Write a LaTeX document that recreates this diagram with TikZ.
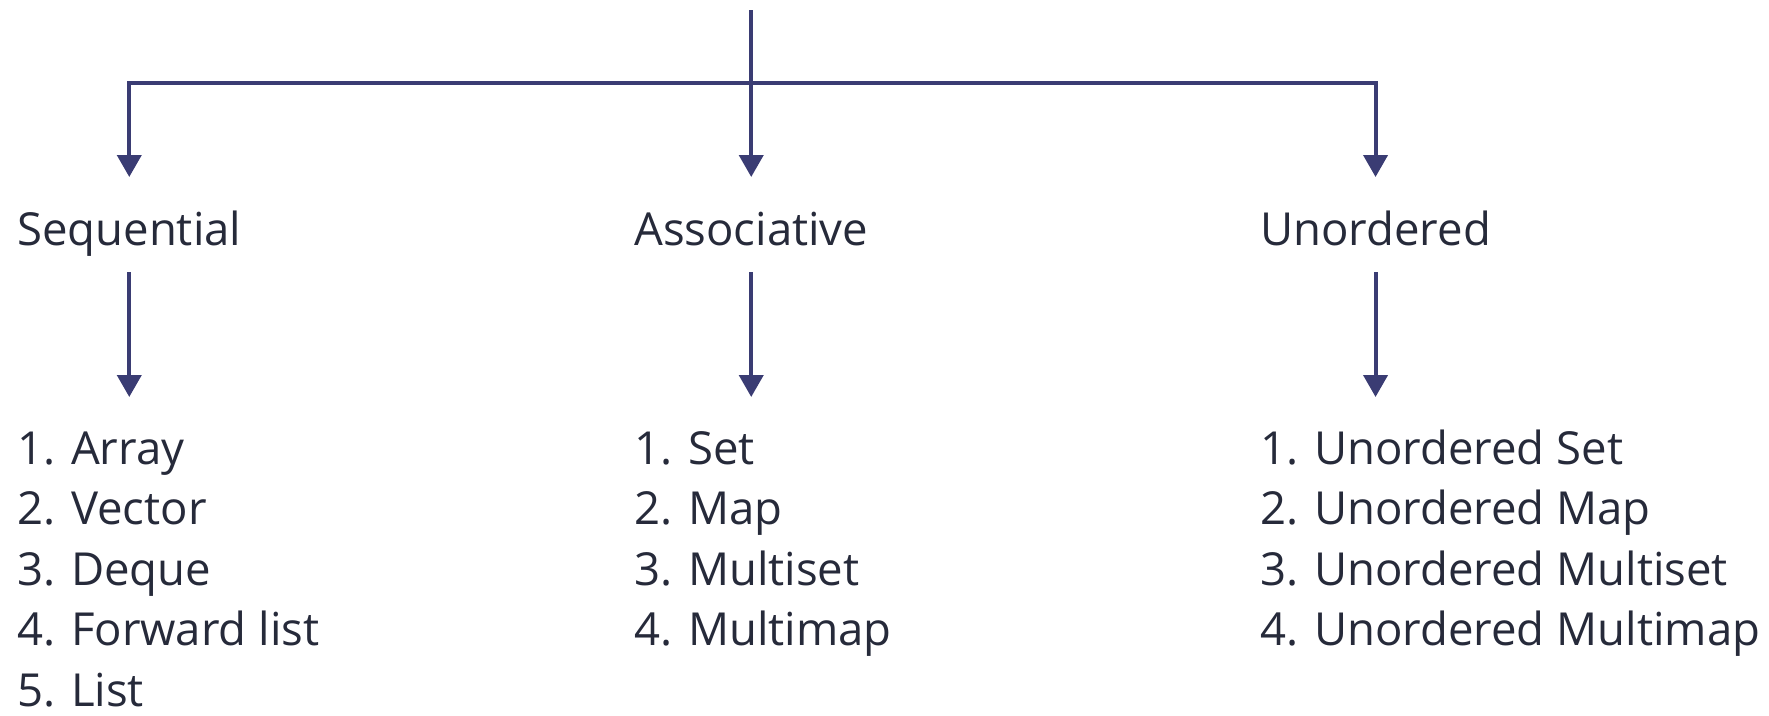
\documentclass[tikz,border=0pt]{standalone}
\usepackage{fontspec}
\setmainfont{Open Sans}
\usetikzlibrary{arrows.meta}
\definecolor{linecol}{RGB}{58,60,115}
\definecolor{textcol}{RGB}{38,42,58}
\tikzset{
  conn/.style={draw=linecol, line width=4pt},
  arr/.style={conn, -{Triangle[width=24pt,length=22pt]}},
  lbl/.style={anchor=base west, inner sep=0pt, text=textcol, font=\fontsize{45.5}{60}\selectfont},
}
\begin{document}
\begin{tikzpicture}[x=1pt,y=-1pt]
\useasboundingbox (0,0) rectangle (1769,715);
% label nodes
\node[lbl] (lab1) at (17,245) {Sequential};
\node[lbl] (lab2) at (634,245) {Associative};
\node[lbl] (lab3) at (1260,245) {Unordered};
% list items
\foreach \t [count=\i] in {1. Array, 2. Vector, 3. Deque, 4. Forward list, 5. List}
  \node[lbl] (s\i) at (17,{464+60.5*(\i-1)}) {\t};
\foreach \t [count=\i] in {1. Set, 2. Map, 3. Multiset, 4. Multimap}
  \node[lbl] (a\i) at (634,{464+60.5*(\i-1)}) {\t};
\foreach \t [count=\i] in {1. Unordered Set, 2. Unordered Map, 3. Unordered Multiset, 4. Unordered Multimap}
  \node[lbl] (u\i) at (1260,{464+60.5*(\i-1)}) {\t};
% helper levels
\coordinate (ytop) at (0,10);
\coordinate (ybar) at (0,83);
\coordinate (ytipA) at (0,177);
\coordinate (ystartB) at (0,272);
\coordinate (ytipB) at (0,397);
% connectors
\draw[arr] (lab2.north |- ytop) -- (lab2.north |- ytipA);
\draw[arr] (lab2.north |- ybar) -| (lab1.north |- ytipA);
\draw[arr] (lab2.north |- ybar) -| (lab3.north |- ytipA);
\draw[arr] (lab1.north |- ystartB) -- (lab1.north |- ytipB);
\draw[arr] (lab2.north |- ystartB) -- (lab2.north |- ytipB);
\draw[arr] (lab3.north |- ystartB) -- (lab3.north |- ytipB);
\end{tikzpicture}
\end{document}
